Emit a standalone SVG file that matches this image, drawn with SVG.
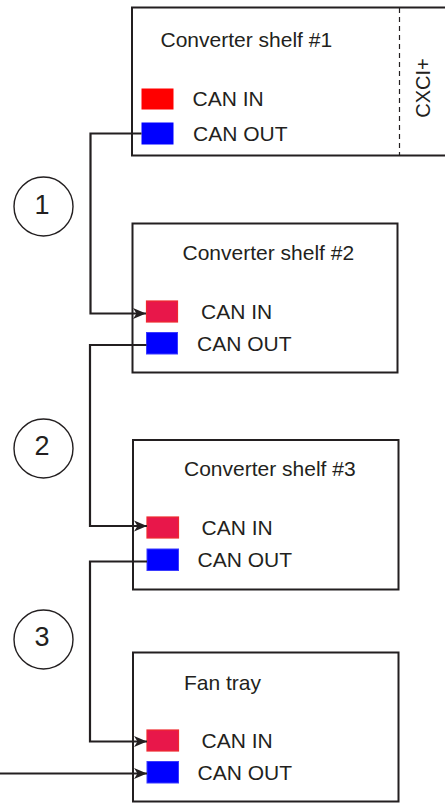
<svg xmlns="http://www.w3.org/2000/svg" width="445" height="804" viewBox="0 0 445 804">
<defs>
<style>
text{font-family:"Liberation Sans",Arial,sans-serif;fill:#231f20}
.lbl{font-size:21px}
.num{font-size:27px}
.box{fill:#fff;stroke:#231f20;stroke-width:2}
.wire{fill:none;stroke:#231f20;stroke-width:2.2}
.circ{fill:#fff;stroke:#231f20;stroke-width:1.4}
.in{fill:#e8174a;stroke:#ee2a2f;stroke-width:1.2}
.out{fill:#0000ff;stroke:#3a3aff;stroke-width:1}
</style>
<marker id="arr" viewBox="0 0 13 12" refX="13" refY="6" markerWidth="13" markerHeight="12" markerUnits="userSpaceOnUse" orient="auto">
<path d="M0,0.5 L13,6 L0,11.5 L3.5,6 Z" fill="#231f20"/>
</marker>
</defs>

<g id="shelf1">
<rect class="box" x="132" y="7.5" width="320" height="148"/>
<line x1="399.5" y1="8" x2="399.5" y2="155" stroke="#231f20" stroke-width="1.2" stroke-dasharray="5,4"/>
<text class="lbl" x="160.5" y="47">Converter shelf #1</text>
<text class="lbl" text-anchor="middle" transform="translate(430,88) rotate(-90)" style="font-size:20px">CXCI+</text>
<rect x="141.5" y="88.5" width="32" height="21" fill="#ff0000"/>
<text class="lbl" x="192.5" y="106">CAN IN</text>
<rect x="141.5" y="122.5" width="32" height="22" fill="#0000ff"/>
<text class="lbl" x="193" y="141">CAN OUT</text>
</g>

<g id="shelf2">
<rect class="box" x="132.5" y="223.5" width="265" height="149"/>
<text class="lbl" x="182.5" y="260">Converter shelf #2</text>
<rect class="in" x="146.5" y="301" width="31" height="21"/>
<text class="lbl" x="201" y="318.5">CAN IN</text>
<rect class="out" x="146.5" y="332.5" width="31" height="21.5"/>
<text class="lbl" x="197" y="350.5">CAN OUT</text>
</g>

<g id="shelf3">
<rect class="box" x="133" y="440" width="265.5" height="149.5"/>
<text class="lbl" x="184" y="476">Converter shelf #3</text>
<rect class="in" x="147" y="517" width="31.5" height="21"/>
<text class="lbl" x="201.5" y="535">CAN IN</text>
<rect class="out" x="147" y="549" width="31.5" height="21.5"/>
<text class="lbl" x="197.5" y="567">CAN OUT</text>
</g>

<g id="fantray">
<rect class="box" x="133" y="652.5" width="265.5" height="149"/>
<text class="lbl" x="184" y="689.5">Fan tray</text>
<rect class="in" x="147" y="730" width="31.5" height="21"/>
<text class="lbl" x="201.5" y="747.5">CAN IN</text>
<rect class="out" x="147" y="761.5" width="31.5" height="21.5"/>
<text class="lbl" x="197.5" y="780">CAN OUT</text>
</g>

<g id="label1">
<circle class="circ" cx="43.5" cy="206.5" r="29.5"/>
<text class="num" x="42" y="213.5" text-anchor="middle">1</text>
</g>
<g id="label2">
<circle class="circ" cx="43.5" cy="448.5" r="29.5"/>
<text class="num" x="42" y="454.5" text-anchor="middle">2</text>
</g>
<g id="label3">
<circle class="circ" cx="43.5" cy="639.5" r="29.5"/>
<text class="num" x="42" y="645.5" text-anchor="middle">3</text>
</g>

<g id="connectors">
<path class="wire" d="M141.5,133.5 H90.5 V313.5 H146" marker-end="url(#arr)"/>
<path class="wire" d="M146.5,345 H90 V526 H147" marker-end="url(#arr)"/>
<path class="wire" d="M147,561.5 H90 V741.5 H147" marker-end="url(#arr)"/>
<path class="wire" d="M0,773.5 H147" marker-end="url(#arr)"/>
</g>
</svg>
